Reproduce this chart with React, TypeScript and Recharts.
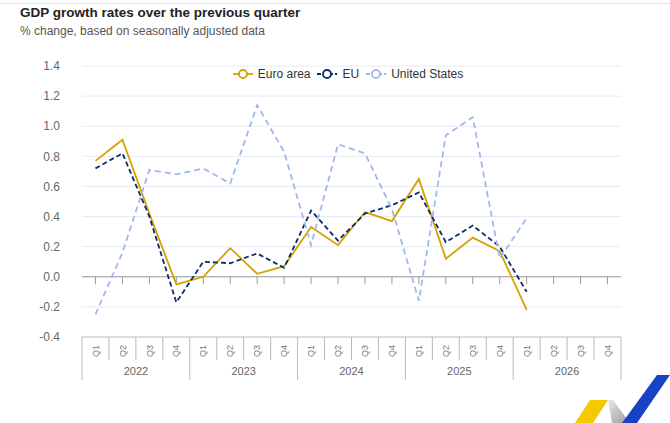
import React from 'react';
import { LineChart, Line, XAxis, YAxis, CartesianGrid, ReferenceLine } from 'recharts';

const quarters = ['Q1', 'Q2', 'Q3', 'Q4'];
const years = ['2022', '2023', '2024', '2025', '2026'];
const euroArea = [0.77, 0.91, 0.42, -0.05, 0.0, 0.19, 0.02, 0.07, 0.33, 0.21, 0.43, 0.37, 0.65, 0.12, 0.26, 0.17, -0.22, null, null, null];
const eu = [0.72, 0.82, 0.4, -0.17, 0.1, 0.09, 0.155, 0.06, 0.44, 0.24, 0.42, 0.475, 0.56, 0.23, 0.34, 0.2, -0.1, null, null, null];
const unitedStates = [-0.25, 0.16, 0.71, 0.68, 0.72, 0.62, 1.14, 0.83, 0.21, 0.88, 0.82, 0.45, -0.16, 0.94, 1.06, 0.12, 0.39, null, null, null];
const yTicks = [-0.4, -0.2, 0, 0.2, 0.4, 0.6, 0.8, 1.0, 1.2, 1.4];

const series = [
  { key: 'euroArea', name: 'Euro area', color: '#d2a300', dash: undefined as string | undefined, width: 1.8 },
  { key: 'eu', name: 'EU', color: '#0d2a6b', dash: '5 3', width: 1.8 },
  { key: 'us', name: 'United States', color: '#9fb8ec', dash: '6 4', width: 1.8 },
];

const data = years.flatMap((yr, yi) =>
  quarters.map((q, qi) => {
    const i = yi * 4 + qi;
    return { key: `${yr}-${q}`, euroArea: euroArea[i], eu: eu[i], us: unitedStates[i] };
  })
);

const FONT = '"Liberation Sans", Arial, sans-serif';

const QuarterTick = (props: any) => {
  const { x, y, payload, index } = props;
  const half = payload && typeof payload.offset === 'number' && payload.offset > 0 ? payload.offset : 13.475;
  const [yr, q] = String(payload.value).split('-');
  const qi = quarters.indexOf(q);
  const isLast = index === data.length - 1;
  return (
    <g>
      <line x1={x - half} x2={x - half} y1={y} y2={y + (qi === 0 ? 43 : 23)} stroke="#b8b8b8" strokeWidth={1} />
      {isLast && <line x1={x + half} x2={x + half} y1={y} y2={y + 43} stroke="#b8b8b8" strokeWidth={1} />}
      <text
        transform={`translate(${x},${y + 14}) rotate(-90)`}
        textAnchor="middle"
        dy="0.35em"
        fontSize={9}
        fill="#777"
        fontFamily={FONT}
      >
        {q}
      </text>
      {qi === 1 && (
        <text x={x + half} y={y + 38} textAnchor="middle" fontSize={11} fill="#666" fontFamily={FONT}>
          {yr}
        </text>
      )}
    </g>
  );
};

const LegendIcon = ({ color, dash }: { color: string; dash?: string }) => (
  <svg width={20} height={12} style={{ display: 'block' }}>
    <line x1={0} x2={20} y1={6} y2={6} stroke={color} strokeWidth={1.8} strokeDasharray={dash ? '4 2' : undefined} />
    <circle cx={10} cy={6} r={4} fill="#fff" stroke={color} strokeWidth={1.8} />
  </svg>
);

export default function App() {
  return (
    <div style={{ position: 'absolute', left: 0, top: 0, width: 670, height: 423, background: '#fff', overflow: 'hidden', fontFamily: FONT }}>
      <div style={{ position: 'absolute', left: 0, top: 3, width: 670, height: 1, background: '#e4e4e4' }} />
      <div style={{ position: 'absolute', left: 20, top: 5, fontSize: 13.5, fontWeight: 'bold', color: '#222', whiteSpace: 'nowrap' }}>
        GDP growth rates over the previous quarter
      </div>
      <div style={{ position: 'absolute', left: 20, top: 24, fontSize: 12, color: '#555', whiteSpace: 'nowrap' }}>
        % change, based on seasonally adjusted data
      </div>
      <LineChart width={670} height={423} data={data} margin={{ top: 66, right: 49, bottom: 26, left: 0 }}>
        <CartesianGrid vertical={false} stroke="#e6ebf4" strokeWidth={1} />
        <YAxis
          type="number"
          domain={[-0.4, 1.4]}
          ticks={yTicks}
          width={82}
          axisLine={false}
          tickLine={false}
          tickSize={0}
          tickMargin={22}
          interval={0}
          tickFormatter={(v: number) => v.toFixed(1)}
          tick={{ fontSize: 12, fill: '#666', fontFamily: FONT }}
        />
        <XAxis
          dataKey="key"
          scale="band"
          height={60}
          interval={0}
          axisLine={{ stroke: '#c4c4c4' }}
          tickLine={false}
          tickSize={0}
          tickMargin={0}
          tick={<QuarterTick />}
        />
        <ReferenceLine y={0} stroke="#9a9a9a" strokeWidth={1} />
        {data.map((d) => (
          <ReferenceLine
            key={d.key}
            segment={[{ x: d.key, y: 0 }, { x: d.key, y: -0.05 }]}
            stroke="#9a9a9a"
            strokeWidth={1}
            ifOverflow="visible"
          />
        ))}
        {series.map((s) => (
          <Line
            key={s.key}
            dataKey={s.key}
            name={s.name}
            stroke={s.color}
            strokeWidth={s.width}
            strokeDasharray={s.dash}
            dot={false}
            activeDot={false}
            type="linear"
            connectNulls={false}
            isAnimationActive={false}
          />
        ))}
      </LineChart>
      <div
        style={{
          position: 'absolute',
          left: 82,
          top: 66,
          width: 539,
          height: 16,
          display: 'flex',
          justifyContent: 'center',
          alignItems: 'center',
          fontSize: 12,
          color: '#333',
        }}
      >
        {series.map((s) => (
          <div key={s.key} style={{ display: 'flex', alignItems: 'center', marginRight: 7 }}>
            <LegendIcon color={s.color} dash={s.dash} />
            <span style={{ marginLeft: 5, whiteSpace: 'nowrap' }}>{s.name}</span>
          </div>
        ))}
      </div>
      <svg width={670} height={423} style={{ position: 'absolute', left: 0, top: 0, pointerEvents: 'none' }}>
        <defs>
          <linearGradient id="logoGray" x1="0" y1="0" x2="1" y2="1">
            <stop offset="0" stopColor="#e8e8e8" />
            <stop offset="1" stopColor="#9a9a9a" />
          </linearGradient>
        </defs>
        <polygon points="590,400 608,400 593,423 575,423" fill="#f6c800" />
        <polygon points="608,400 613,400 630,423 612,423 " fill="url(#logoGray)" />
        <polygon points="657,375 670,375 637,423 622,423" fill="#1842c4" />
      </svg>
    </div>
  );
}
